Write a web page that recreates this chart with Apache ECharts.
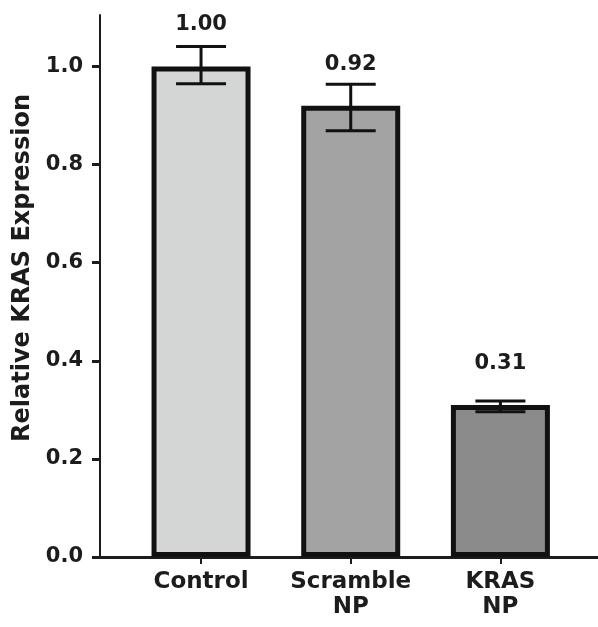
<!DOCTYPE html>
<html>
<head>
<meta charset="utf-8">
<script src="https://cdn.jsdelivr.net/npm/echarts@6/dist/echarts.min.js"></script>
<style>
  html, body { margin: 0; padding: 0; background: #ffffff; }
  #chart { width: 598px; height: 627px; }
</style>
</head>
<body>
<div id="chart"></div>
<script>
// Relative KRAS expression per treatment group
const categories = ['Control', 'Scramble\nNP', 'KRAS\nNP'];
const meanValues = [1.00, 0.92, 0.31];
const errorLow = [0.965, 0.869, 0.296];
const errorHigh = [1.041, 0.964, 0.318];
const barColors = ['#d4d5d5', '#a3a3a3', '#8b8b8b'];
const yTickValues = [0.0, 0.2, 0.4, 0.6, 0.8, 1.0];
const xPositions = [0, 1, 2];

const FONT = 'DejaVu Sans';
const INK = '#1c1c1c';

const barData = meanValues.map((v, i) => ({
  value: [xPositions[i], v],
  itemStyle: { color: barColors[i] }
}));

const errorData = meanValues.map((v, i) => [xPositions[i], errorLow[i], errorHigh[i]]);

const chart = echarts.init(document.getElementById('chart'), null, { renderer: 'canvas' });

chart.setOption({
  backgroundColor: '#ffffff',
  animation: false,
  grid: { left: 100, right: 0, top: 15, bottom: 70 },
  xAxis: {
    type: 'value',
    min: -0.675,
    max: 2.652,
    splitLine: { show: false },
    axisLine: { show: true, onZero: false, lineStyle: { color: INK, width: 3 } },
    axisTick: {
      show: true,
      customValues: xPositions,
      length: 7,
      lineStyle: { color: INK, width: 2 }
    },
    axisLabel: {
      customValues: xPositions,
      formatter: (v) => categories[Math.round(v)] || '',
      margin: 13,
      fontFamily: FONT,
      fontWeight: 'bold',
      fontSize: 23,
      lineHeight: 25,
      color: INK
    }
  },
  yAxis: {
    type: 'value',
    min: 0,
    max: 1.105,
    splitLine: { show: false },
    name: 'Relative KRAS Expression',
    nameLocation: 'middle',
    nameGap: 60,
    nameRotate: 90,
    nameTextStyle: {
      fontFamily: FONT,
      fontWeight: 'bold',
      fontSize: 24,
      color: INK,
      padding: [0, 0, 0, 36]
    },
    axisLine: { show: true, onZero: false, lineStyle: { color: INK, width: 2 } },
    axisTick: {
      show: true,
      customValues: yTickValues,
      length: 8,
      lineStyle: { color: INK, width: 3 }
    },
    axisLabel: {
      customValues: yTickValues,
      formatter: (v) => v.toFixed(1),
      margin: 17,
      fontFamily: FONT,
      fontWeight: 'bold',
      fontSize: 21,
      color: INK
    }
  },
  series: [
    {
      type: 'bar',
      data: barData,
      barWidth: 99,
      itemStyle: { borderColor: '#111111', borderWidth: 5 },
      label: {
        show: true,
        position: 'top',
        distance: 31,
        formatter: (p) => p.value[1].toFixed(2),
        fontFamily: FONT,
        fontWeight: 'bold',
        fontSize: 21,
        color: INK
      },
      z: 2
    },
    {
      type: 'custom',
      data: errorData,
      z: 5,
      renderItem: (params, api) => {
        const x = api.value(0);
        const lo = api.coord([x, api.value(1)]);
        const hi = api.coord([x, api.value(2)]);
        const half = 25;
        const style = { stroke: '#111111', lineWidth: 3 };
        return {
          type: 'group',
          children: [
            { type: 'line', shape: { x1: lo[0], y1: lo[1], x2: hi[0], y2: hi[1] }, style },
            { type: 'line', shape: { x1: hi[0] - half, y1: hi[1], x2: hi[0] + half, y2: hi[1] }, style },
            { type: 'line', shape: { x1: lo[0] - half, y1: lo[1], x2: lo[0] + half, y2: lo[1] }, style }
          ]
        };
      }
    }
  ]
});
</script>
</body>
</html>
